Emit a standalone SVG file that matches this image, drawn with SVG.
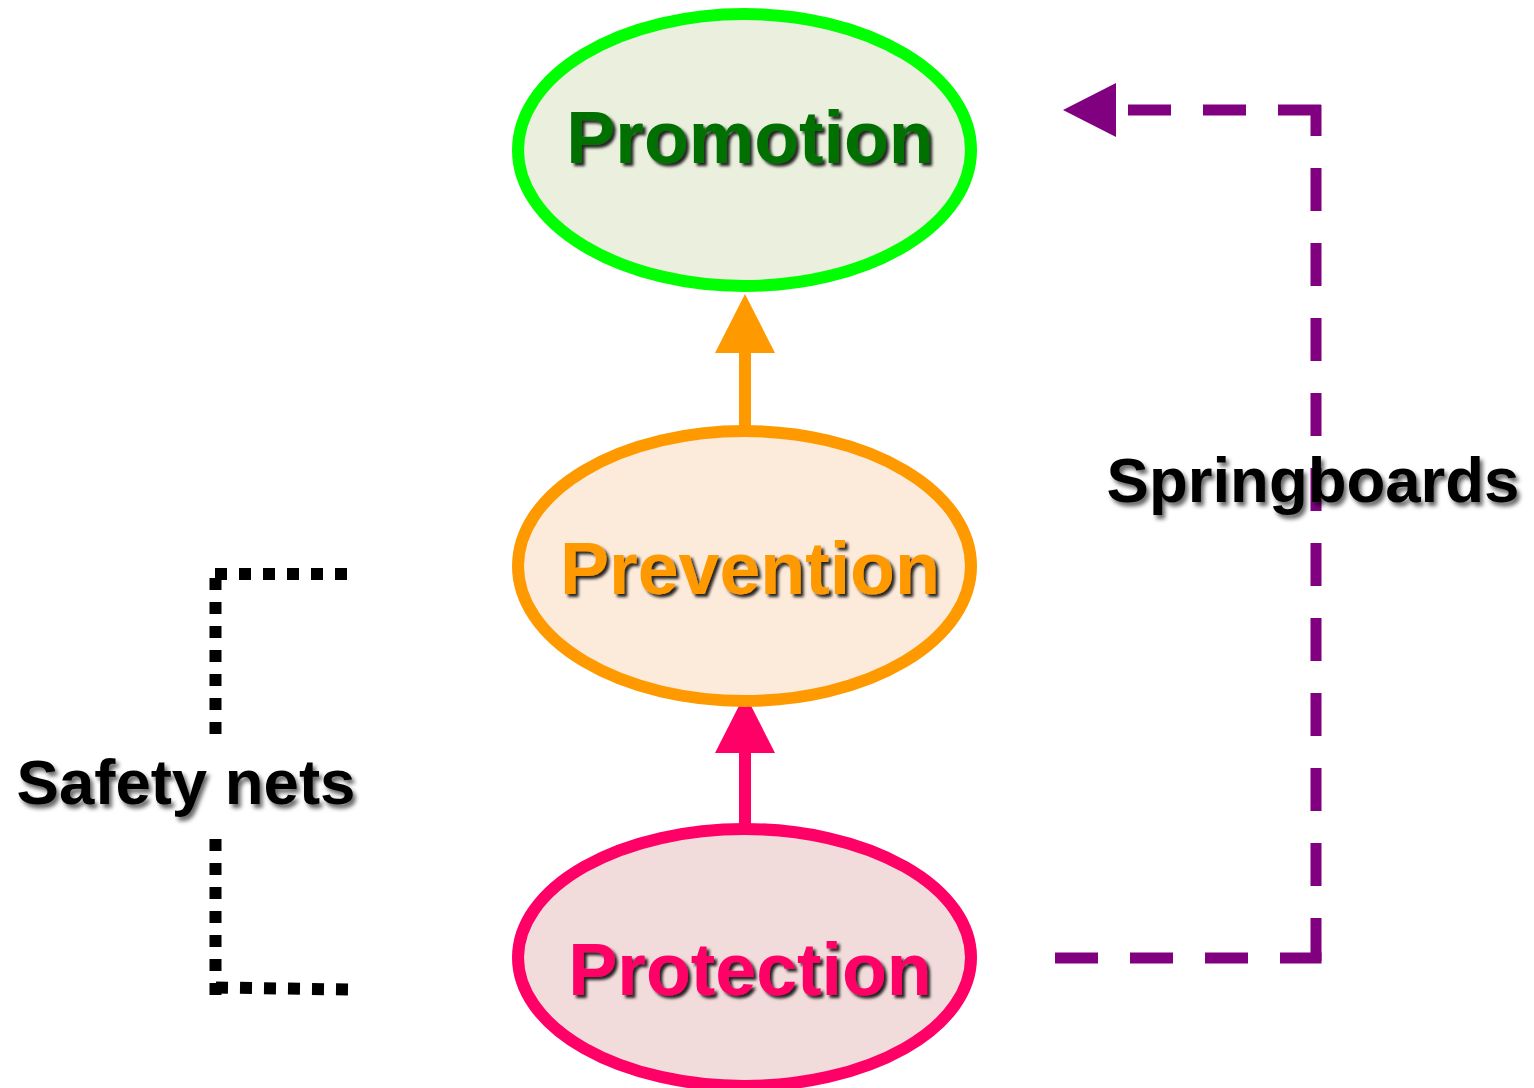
<svg xmlns="http://www.w3.org/2000/svg" width="1534" height="1088" viewBox="0 0 1534 1088">
<defs>
<filter id="sh" x="-10%" y="-20%" width="120%" height="150%">
<feDropShadow dx="3" dy="3" stdDeviation="1.5" flood-color="#000" flood-opacity="0.85"/>
</filter>
<filter id="shk" x="-10%" y="-20%" width="120%" height="150%">
<feDropShadow dx="3" dy="4" stdDeviation="2" flood-color="#000" flood-opacity="0.6"/>
</filter>
</defs>
<style>
.node{stroke-width:12}
.lbl{font-family:"Liberation Sans",Arial,sans-serif;font-weight:bold;text-anchor:middle}
.big{font-size:73.5px;filter:url(#sh)}
.side{font-size:63.5px;fill:#000;filter:url(#shk)}
.dot{stroke:#000;stroke-width:12;stroke-dasharray:12 12;fill:none}
.purp{stroke:#800080;stroke-width:11;stroke-dasharray:43 32;fill:none}
</style>
<rect width="1534" height="1088" fill="#fff"/>
<g id="connectors">
<line x1="745" y1="426" x2="745" y2="350" stroke="#FF9900" stroke-width="12"/>
<polygon points="745,294 775,353 715,353" fill="#FF9900"/>
<line x1="745" y1="826" x2="745" y2="750" stroke="#FF0066" stroke-width="12"/>
<polygon points="745,694 775,753 715,753" fill="#FF0066"/>
<line class="purp" x1="1055" y1="958" x2="1321.5" y2="958"/>
<line class="purp" x1="1316" y1="105" x2="1316" y2="963" stroke-dashoffset="12"/>
<line class="purp" x1="1321" y1="110" x2="1116" y2="110"/>
<polygon points="1063,110 1116,83 1116,137" fill="#800080"/>
<line class="dot" x1="347" y1="574" x2="215" y2="574"/>
<line class="dot" x1="215.5" y1="578" x2="215.5" y2="734"/>
<line class="dot" x1="215.5" y1="839" x2="215.5" y2="995"/>
<line class="dot" x1="216" y1="987.5" x2="348" y2="989.5"/>
</g>
<g id="promotion">
<ellipse class="node" cx="744.5" cy="150" rx="226.5" ry="136" fill="#EAEFDE" stroke="#00FF00"/>
<text class="lbl big" x="750" y="163" fill="#007000">Promotion</text>
</g>
<g id="prevention">
<ellipse class="node" cx="744.5" cy="566" rx="226.5" ry="135" fill="#FCEADB" stroke="#FF9900"/>
<text class="lbl big" x="750" y="594" fill="#FF9900">Prevention</text>
</g>
<g id="protection">
<ellipse class="node" cx="744.5" cy="957.5" rx="226.5" ry="128.5" fill="#F2DCDB" stroke="#FF0066"/>
<text class="lbl big" x="750" y="995" fill="#FF0066">Protection</text>
</g>
<g id="safety-nets">
<text class="lbl side" x="186" y="804">Safety nets</text>
</g>
<g id="springboards">
<text class="lbl side" x="1313" y="502" font-size="64">Springboards</text>
</g>
</svg>
